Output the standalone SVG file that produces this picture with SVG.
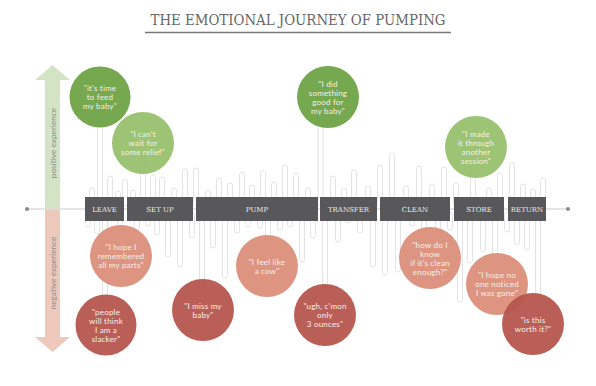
<svg xmlns="http://www.w3.org/2000/svg" width="596" height="386" viewBox="0 0 596 386">
<style>
.pill{fill:#fff;stroke:#e3e3e3;stroke-width:1}
.stage{fill:#58585a}
.slab{font-family:"DejaVu Serif","Liberation Serif",serif;fill:#ececec;font-size:7px;text-anchor:middle}
.q{font-family:"Lato","Open Sans",sans-serif;font-size:8px;letter-spacing:0.2px;fill:#f7efe9;text-anchor:middle}
.dg{fill:#6aa142;fill-opacity:0.93}
.lg{fill:#96bf69;fill-opacity:0.93}
.sa{fill:#da8d78;fill-opacity:0.93}
.dr{fill:#b5534a;fill-opacity:0.93}
.axis{font-family:"Lato","Open Sans",sans-serif;font-size:8.3px;fill:#8d8d8d;text-anchor:middle}
</style>
<rect width="596" height="386" fill="#fff"/>
<g id="title">
<text x="298" y="25" font-family="DejaVu Serif, Liberation Serif, serif" font-size="14.5" fill="#666" text-anchor="middle" textLength="295" lengthAdjust="spacingAndGlyphs">THE EMOTIONAL JOURNEY OF PUMPING</text>
<line x1="145" y1="32.5" x2="451" y2="32.5" stroke="#777" stroke-width="1.5"/>
</g>
<g id="axis">
<polygon points="45,209 45,80 35,80 52.5,65 70,80 60,80 60,209" fill="#d3e4c5"/>
<polygon points="45,209 60,209 60,337 70,337 52.5,352 35,337 45,337" fill="#eec8bb"/>
<text class="axis" transform="translate(55.8,143) rotate(-90)">positive experience</text>
<text class="axis" transform="translate(55.8,273) rotate(-90)">negative experience</text>
</g>
<g id="connectors">
<line x1="27" y1="209" x2="568" y2="209" stroke="#dcdcdc" stroke-width="1.5"/>
<circle cx="27" cy="209" r="2" fill="#8a8a8a"/>
<circle cx="568" cy="209" r="2" fill="#8a8a8a"/>
<g id="pills-up">
<rect class="pill" x="89.5" y="188" width="5" height="20" rx="2.5"/>
<rect class="pill" x="107.5" y="176" width="5" height="30" rx="2.5"/>
<rect class="pill" x="115.5" y="191" width="5" height="15" rx="2.5"/>
<rect class="pill" x="122.5" y="179" width="5" height="27" rx="2.5"/>
<rect class="pill" x="130.5" y="190" width="5" height="16" rx="2.5"/>
<rect class="pill" x="150.5" y="175" width="5" height="31" rx="2.5"/>
<rect class="pill" x="159.5" y="177" width="5" height="29" rx="2.5"/>
<rect class="pill" x="171.5" y="188" width="5" height="18" rx="2.5"/>
<rect class="pill" x="182.5" y="169" width="5" height="37" rx="2.5"/>
<rect class="pill" x="193.5" y="168" width="5" height="38" rx="2.5"/>
<rect class="pill" x="205.5" y="190" width="5" height="16" rx="2.5"/>
<rect class="pill" x="216.5" y="178" width="5" height="28" rx="2.5"/>
<rect class="pill" x="227.5" y="183" width="5" height="23" rx="2.5"/>
<rect class="pill" x="239.5" y="172" width="5" height="34" rx="2.5"/>
<rect class="pill" x="249.5" y="185" width="5" height="21" rx="2.5"/>
<rect class="pill" x="260.5" y="171" width="5" height="35" rx="2.5"/>
<rect class="pill" x="271.5" y="182" width="5" height="24" rx="2.5"/>
<rect class="pill" x="282.5" y="165" width="5" height="41" rx="2.5"/>
<rect class="pill" x="293.5" y="173" width="5" height="33" rx="2.5"/>
<rect class="pill" x="305.5" y="188" width="5" height="18" rx="2.5"/>
<rect class="pill" x="330.5" y="176" width="5" height="30" rx="2.5"/>
<rect class="pill" x="341.5" y="188" width="5" height="18" rx="2.5"/>
<rect class="pill" x="351.5" y="170" width="5" height="36" rx="2.5"/>
<rect class="pill" x="365.5" y="186" width="5" height="20" rx="2.5"/>
<rect class="pill" x="377.5" y="165" width="5" height="41" rx="2.5"/>
<rect class="pill" x="389.5" y="153" width="5" height="53" rx="2.5"/>
<rect class="pill" x="403.5" y="186" width="5" height="20" rx="2.5"/>
<rect class="pill" x="416.5" y="166" width="5" height="40" rx="2.5"/>
<rect class="pill" x="429.5" y="184" width="5" height="22" rx="2.5"/>
<rect class="pill" x="441.5" y="167" width="5" height="39" rx="2.5"/>
<rect class="pill" x="453.5" y="183" width="5" height="23" rx="2.5"/>
<rect class="pill" x="486.5" y="188" width="5" height="18" rx="2.5"/>
<rect class="pill" x="497.5" y="173" width="5" height="33" rx="2.5"/>
<rect class="pill" x="509.5" y="163" width="5" height="43" rx="2.5"/>
<rect class="pill" x="520.5" y="184" width="5" height="22" rx="2.5"/>
<rect class="pill" x="530.5" y="189" width="5" height="17" rx="2.5"/>
<rect class="pill" x="540.5" y="178" width="5" height="28" rx="2.5"/>
<rect class="pill" x="97.5" y="115" width="5" height="91" rx="2.5"/>
<rect class="pill" x="140.5" y="160" width="5" height="46" rx="2.5"/>
<rect class="pill" x="318" y="120" width="5" height="86" rx="2.5"/>
<rect class="pill" x="470.5" y="165" width="5" height="41" rx="2.5"/>
</g>
<g id="pills-down">
<rect class="pill" x="85.5" y="212" width="5" height="15" rx="2.5"/>
<rect class="pill" x="94.5" y="212" width="5" height="22" rx="2.5"/>
<rect class="pill" x="134.5" y="212" width="5" height="18" rx="2.5"/>
<rect class="pill" x="145.5" y="212" width="5" height="14" rx="2.5"/>
<rect class="pill" x="154.5" y="212" width="5" height="23" rx="2.5"/>
<rect class="pill" x="165.5" y="212" width="5" height="45" rx="2.5"/>
<rect class="pill" x="177.5" y="212" width="5" height="55" rx="2.5"/>
<rect class="pill" x="189.5" y="212" width="5" height="26" rx="2.5"/>
<rect class="pill" x="210.5" y="212" width="5" height="36" rx="2.5"/>
<rect class="pill" x="222.5" y="212" width="5" height="66" rx="2.5"/>
<rect class="pill" x="234.5" y="212" width="5" height="21" rx="2.5"/>
<rect class="pill" x="245.5" y="212" width="5" height="15" rx="2.5"/>
<rect class="pill" x="257.5" y="212" width="5" height="16" rx="2.5"/>
<rect class="pill" x="277.5" y="212" width="5" height="18" rx="2.5"/>
<rect class="pill" x="287.5" y="212" width="5" height="15" rx="2.5"/>
<rect class="pill" x="299.5" y="212" width="5" height="50" rx="2.5"/>
<rect class="pill" x="310.5" y="212" width="5" height="26" rx="2.5"/>
<rect class="pill" x="335.5" y="212" width="5" height="30" rx="2.5"/>
<rect class="pill" x="345.5" y="212" width="5" height="11" rx="2.5"/>
<rect class="pill" x="357.5" y="212" width="5" height="21" rx="2.5"/>
<rect class="pill" x="370.5" y="212" width="5" height="55" rx="2.5"/>
<rect class="pill" x="382.5" y="212" width="5" height="63" rx="2.5"/>
<rect class="pill" x="395.5" y="212" width="5" height="60" rx="2.5"/>
<rect class="pill" x="409.5" y="212" width="5" height="14" rx="2.5"/>
<rect class="pill" x="435.5" y="212" width="5" height="28" rx="2.5"/>
<rect class="pill" x="447.5" y="212" width="5" height="18" rx="2.5"/>
<rect class="pill" x="457.5" y="212" width="5" height="90" rx="2.5"/>
<rect class="pill" x="467.5" y="212" width="5" height="51" rx="2.5"/>
<rect class="pill" x="480.5" y="212" width="5" height="40" rx="2.5"/>
<rect class="pill" x="504.5" y="212" width="5" height="20" rx="2.5"/>
<rect class="pill" x="514.5" y="212" width="5" height="33" rx="2.5"/>
<rect class="pill" x="524.5" y="212" width="5" height="38" rx="2.5"/>
<rect class="pill" x="117.5" y="212" width="5" height="20" rx="2.5"/>
<rect class="pill" x="102.5" y="212" width="5" height="90" rx="2.5"/>
<rect class="pill" x="199.5" y="212" width="5" height="75" rx="2.5"/>
<rect class="pill" x="265.5" y="212" width="5" height="30" rx="2.5"/>
<rect class="pill" x="322.5" y="212" width="5" height="80" rx="2.5"/>
<rect class="pill" x="421.5" y="212" width="5" height="22" rx="2.5"/>
<rect class="pill" x="492.5" y="212" width="5" height="48" rx="2.5"/>
<rect class="pill" x="535.5" y="212" width="5" height="88" rx="2.5"/>
</g>
</g>
<g id="stages">
<g id="stage-leave"><rect class="stage" x="85" y="197" width="39" height="24"/><text class="slab" x="104.5" y="212">LEAVE</text></g>
<g id="stage-setup"><rect class="stage" x="127" y="197" width="66" height="24"/><text class="slab" x="160" y="212">SET UP</text></g>
<g id="stage-pump"><rect class="stage" x="196" y="197" width="122" height="24"/><text class="slab" x="257" y="212">PUMP</text></g>
<g id="stage-transfer"><rect class="stage" x="320" y="197" width="57" height="24"/><text class="slab" x="348.5" y="212">TRANSFER</text></g>
<g id="stage-clean"><rect class="stage" x="380" y="197" width="70" height="24"/><text class="slab" x="415" y="212">CLEAN</text></g>
<g id="stage-store"><rect class="stage" x="454" y="197" width="50" height="24"/><text class="slab" x="479" y="212">STORE</text></g>
<g id="stage-return"><rect class="stage" x="508" y="197" width="38" height="24"/><text class="slab" x="527" y="212">RETURN</text></g>
</g>
<g id="node-time-to-feed"><circle class="dg" cx="100" cy="97" r="30.5"/><text class="q" x="100" y="91">"it's time</text><text class="q" x="100" y="100">to feed</text><text class="q" x="100" y="109">my baby"</text></g>
<g id="node-relief"><circle class="lg" cx="143" cy="143" r="31"/><text class="q" x="143" y="137">"I can't</text><text class="q" x="143" y="146">wait for</text><text class="q" x="143" y="155">some relief"</text></g>
<g id="node-something-good"><circle class="dg" cx="328" cy="97" r="31"/><text class="q" x="328" y="86.5">"I did</text><text class="q" x="328" y="95.5">something</text><text class="q" x="328" y="104.5">good for</text><text class="q" x="328" y="113.5">my baby"</text></g>
<g id="node-made-it"><circle class="lg" cx="476" cy="147" r="31"/><text class="q" x="476" y="136.5">"I made</text><text class="q" x="476" y="145.5">it through</text><text class="q" x="476" y="154.5">another</text><text class="q" x="476" y="163.5">session"</text></g>
<g id="node-parts"><circle class="sa" cx="121" cy="256" r="31"/><text class="q" x="121" y="250">"I hope I</text><text class="q" x="121" y="259">remembered</text><text class="q" x="121" y="268">all my parts"</text></g>
<g id="node-slacker"><circle class="dr" cx="106" cy="325" r="30.5"/><text class="q" x="106" y="314.5">"people</text><text class="q" x="106" y="323.5">will think</text><text class="q" x="106" y="332.5">I am a</text><text class="q" x="106" y="341.5">slacker"</text></g>
<g id="node-miss-baby"><circle class="dr" cx="203" cy="310" r="31"/><text class="q" x="203" y="308.5">"I miss my</text><text class="q" x="203" y="317.5">baby"</text></g>
<g id="node-cow"><circle class="sa" cx="267" cy="266" r="31"/><text class="q" x="267" y="264.5">"I feel like</text><text class="q" x="267" y="273.5">a cow"</text></g>
<g id="node-ounces"><circle class="dr" cx="325" cy="315" r="31"/><text class="q" x="325" y="309">"ugh, c'mon</text><text class="q" x="325" y="318">only</text><text class="q" x="325" y="327">3 ounces"</text></g>
<g id="node-clean-enough"><circle class="sa" cx="430" cy="258" r="31"/><text class="q" x="430" y="247.5">"how do I</text><text class="q" x="430" y="256.5">know</text><text class="q" x="430" y="265.5">if it's clean</text><text class="q" x="430" y="274.5">enough?"</text></g>
<g id="node-noticed"><circle class="sa" cx="497" cy="284" r="31"/><text class="q" x="497" y="278">"I hope no</text><text class="q" x="497" y="287">one noticed</text><text class="q" x="497" y="296">I was gone"</text></g>
<g id="node-worth-it"><circle class="dr" cx="533" cy="324" r="31"/><text class="q" x="533" y="322.5">"is this</text><text class="q" x="533" y="331.5">worth it?"</text></g>
</svg>
